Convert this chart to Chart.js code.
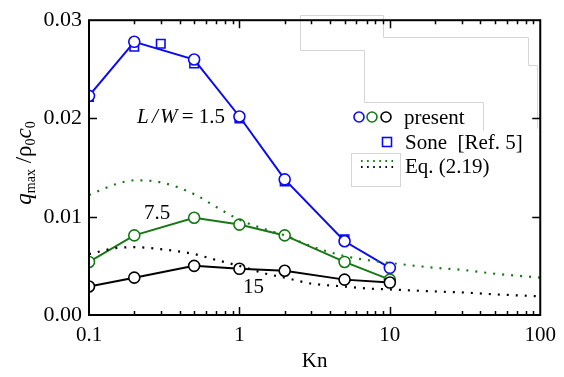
<!DOCTYPE html>
<html><head><meta charset="utf-8">
<script src="https://cdn.jsdelivr.net/npm/chart.js@4.4.0/dist/chart.umd.min.js"></script>
<style>html,body{margin:0;padding:0;background:#fff}#wrap{width:564px;height:377px}
.pre{font-family:"Liberation Serif";position:absolute;left:-9999px}</style>
</head><body><span class="pre">0.1 Kn <i>q</i></span><div id="wrap"><canvas id="c" width="564" height="377"></canvas></div>
<script>
const knPresent = [0.1, 0.2, 0.5, 1, 2, 5, 10];
const presentLW15 = [0.0223, 0.0278, 0.0260, 0.0202, 0.0138, 0.0075, 0.0048];
const presentLW75 = [0.0054, 0.0081, 0.0099, 0.0092, 0.0081, 0.0054, 0.0036];
const presentLW150 = [0.0029, 0.0038, 0.0050, 0.0047, 0.0045, 0.0036, 0.0033];
const knSone = [0.1, 0.2, 0.3, 0.5, 1, 2, 5];
const soneLW15 = [0.0222, 0.0273, 0.0276, 0.0256, 0.0200, 0.0136, 0.0077];
const knEq = [0.1, 0.15, 0.2, 0.3, 0.5, 0.7, 1, 1.5, 2, 3, 5, 7, 10, 20, 30, 50, 70, 100];
const eqLW75 = [0.0122, 0.0133, 0.0137, 0.0135, 0.0123, 0.0110, 0.0097, 0.0087, 0.0081, 0.0070, 0.0060, 0.0056, 0.0053, 0.0048, 0.0046, 0.0042, 0.0040, 0.0038];
const eqLW150 = [0.0062, 0.0068, 0.0069, 0.0067, 0.0062, 0.0056, 0.0050, 0.0042, 0.0038, 0.0032, 0.0029, 0.0027, 0.0026, 0.0024, 0.0023, 0.0021, 0.0020, 0.0019];
const xTickLabels = [0.1, 1, 10, 100];
const yTickValues = [0, 0.01, 0.02, 0.03];

const BLUE = '#0a0af5', GREEN = '#167816', BLACK = '#000000';
const FONT = "'Liberation Serif', 'DejaVu Serif', serif";

const pts = (xs, ys) => xs.map((x, i) => ({x, y: ys[i]}));

const dotted = (data, color) => ({
  data, borderColor: color, borderWidth: 2.2, borderDash: [2, 7], pointRadius: 0,
  fill: false, cubicInterpolationMode: 'monotone', borderCapStyle: 'butt'
});
const solid = (data, color) => ({
  data, borderColor: color, borderWidth: 2, pointRadius: 5.5, pointBorderWidth: 1.6,
  pointBackgroundColor: '#fff', pointBorderColor: color, pointStyle: 'circle', fill: false, tension: 0
});

const deco = {
  id: 'deco',
  afterDraw(chart) {
    const ctx = chart.ctx, xs = chart.scales.x, ys = chart.scales.y, a = chart.chartArea;
    ctx.save();
    ctx.strokeStyle = '#d6d6d6'; ctx.lineWidth = 1;
    ctx.beginPath();
    ctx.moveTo(300.5, 15.5); ctx.lineTo(383.5, 15.5); ctx.lineTo(383.5, 37.5); ctx.lineTo(528.5, 37.5); ctx.lineTo(528.5, 65.5); ctx.lineTo(537.5, 65.5); ctx.lineTo(537.5, 128.5);
    ctx.moveTo(300.5, 15.5); ctx.lineTo(300.5, 50.5); ctx.lineTo(364.5, 50.5); ctx.lineTo(364.5, 102.5); ctx.lineTo(483.5, 102.5); ctx.lineTo(483.5, 130.5);
    ctx.stroke();
    ctx.strokeRect(351.5, 153.5, 49, 33);
    ctx.strokeStyle = '#000'; ctx.lineWidth = 2;
    ctx.strokeRect(a.left, a.top, a.right - a.left, a.bottom - a.top);
    ctx.lineWidth = 1.5;
    ctx.beginPath();
    for (let d = 0.1; d < 100; d *= 10) {
      for (let m = 1; m <= 9; m++) {
        const v = m * d;
        const px = Math.round(xs.getPixelForValue(v)) + 0.5;
        const L = (m === 1) ? 8 : 4;
        if (px > a.left + 1 && px < a.right - 1) {
          ctx.moveTo(px, a.bottom); ctx.lineTo(px, a.bottom - L);
          ctx.moveTo(px, a.top); ctx.lineTo(px, a.top + L);
        }
      }
    }
    yTickValues.forEach(v => {
      const py = Math.round(ys.getPixelForValue(v)) + 0.5;
      if (py > a.top + 1 && py < a.bottom - 1) {
        ctx.moveTo(a.left, py); ctx.lineTo(a.left + 8, py);
        ctx.moveTo(a.right, py); ctx.lineTo(a.right - 8, py);
      }
    });
    ctx.stroke();

    ctx.fillStyle = '#000';
    ctx.textBaseline = 'alphabetic';
    ctx.font = '21px ' + FONT; ctx.textAlign = 'center';
    ctx.fillText('Kn', (a.left + a.right) / 2, 367);
    ctx.save();
    ctx.translate(31, 163); ctx.rotate(-Math.PI / 2);
    const parts = [
      {t: 'q', f: 'italic 23px ' + FONT, dy: 0},
      {t: 'max', f: '14px ' + FONT, dy: 4},
      {t: ' /', f: '23px ' + FONT, dy: 0},
      {t: 'ρ', f: '23px ' + FONT, dy: 0},
      {t: '0', f: '14px ' + FONT, dy: 4},
      {t: 'c', f: 'italic 23px ' + FONT, dy: 0},
      {t: '0', f: '14px ' + FONT, dy: 4}
    ];
    let tw = 0;
    parts.forEach(p => { ctx.font = p.f; p.w = ctx.measureText(p.t).width; tw += p.w; });
    let cx = -tw / 2;
    ctx.textAlign = 'left';
    parts.forEach(p => { ctx.font = p.f; ctx.fillText(p.t, cx, p.dy); cx += p.w; });
    ctx.restore();

    ctx.textAlign = 'left';
    ctx.font = 'italic 21px ' + FONT;
    ctx.fillText('L', 137, 123);
    ctx.fillText('/', 152, 123);
    ctx.fillText('W', 160, 123);
    ctx.font = '21px ' + FONT;
    ctx.textAlign = 'right';
    ctx.fillText('= 1.5', 225, 123);
    ctx.textAlign = 'left';
    ctx.fillText('7.5', 144, 219);
    ctx.fillText('15', 243, 293);

    ctx.lineWidth = 1.6;
    [[359, BLUE], [372, GREEN], [386, BLACK]].forEach(([x, c]) => {
      ctx.strokeStyle = c; ctx.beginPath(); ctx.arc(x, 117, 5, 0, Math.PI * 2); ctx.stroke();
    });
    ctx.strokeStyle = BLUE; ctx.strokeRect(382.5, 137.5, 9, 9);
    ctx.lineWidth = 2;
    ctx.setLineDash([1.6, 4.5]);
    ctx.strokeStyle = GREEN; ctx.beginPath(); ctx.moveTo(361, 161); ctx.lineTo(394, 161); ctx.stroke();
    ctx.strokeStyle = BLACK; ctx.beginPath(); ctx.moveTo(361, 167); ctx.lineTo(394, 167); ctx.stroke();
    ctx.setLineDash([]);
    ctx.fillStyle = '#000';
    ctx.font = '21px ' + FONT;
    ctx.fillText('present', 404, 124);
    ctx.fillText('Sone  [Ref. 5]', 405, 149);
    ctx.fillText('Eq. (2.19)', 405, 173);
    ctx.restore();
  }
};

function build() {
  new Chart(document.getElementById('c'), {
    type: 'line',
    data: {
      datasets: [
        dotted(pts(knEq, eqLW75), GREEN),
        dotted(pts(knEq, eqLW150), BLACK),
        solid(pts(knPresent, presentLW150), BLACK),
        solid(pts(knPresent, presentLW75), GREEN),
        solid(pts(knPresent, presentLW15), BLUE),
        {data: pts(knSone, soneLW15), showLine: false, pointStyle: 'rect', pointRadius: 6,
         pointBorderWidth: 1.6, pointBorderColor: BLUE, pointBackgroundColor: 'rgba(0,0,0,0)', borderColor: BLUE}
      ]
    },
    options: {
      responsive: false, animation: false, devicePixelRatio: 1,
      layout: {padding: {left: 0, top: 10, right: 17, bottom: 0}},
      plugins: {legend: {display: false}, tooltip: {enabled: false}},
      scales: {
        x: {
          type: 'logarithmic', min: 0.1, max: 100,
          grid: {display: false, drawTicks: false}, border: {display: false},
          afterBuildTicks: s => { s.ticks = xTickLabels.map(v => ({value: v})); },
          afterFit: s => { s.height = 62; },
          ticks: {color: '#000', padding: 8, maxRotation: 0, autoSkip: false,
            font: {family: FONT, size: 21},
            callback: v => String(v)}
        },
        y: {
          min: 0, max: 0.03,
          grid: {display: false, drawTicks: false}, border: {display: false},
          afterBuildTicks: s => { s.ticks = yTickValues.map(v => ({value: v})); },
          afterFit: s => { s.width = 89; },
          ticks: {color: '#000', padding: 7, font: {family: FONT, size: 22},
            callback: v => Number(v).toFixed(2)}
        }
      }
    },
    plugins: [deco]
  });
}
Promise.all([
  document.fonts.load("21px 'Liberation Serif'"),
  document.fonts.load("italic 21px 'Liberation Serif'")
]).then(build, build);
</script></body></html>
